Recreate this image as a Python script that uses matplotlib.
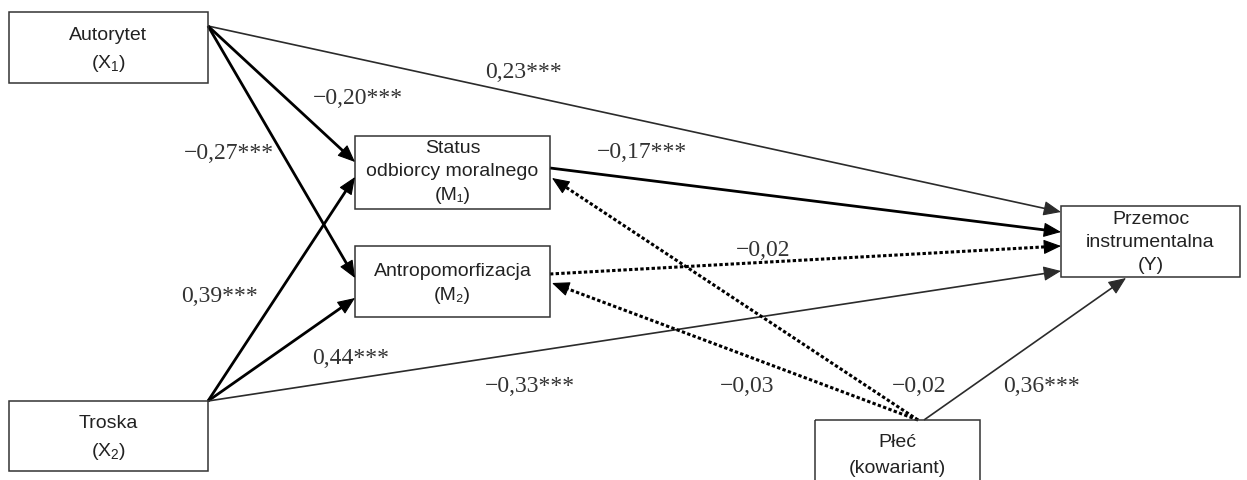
import numpy as np
import matplotlib.pyplot as plt
from matplotlib.patches import Rectangle

plt.rcParams['font.family'] = ['Liberation Sans', 'DejaVu Sans']
plt.rcParams['mathtext.fontset'] = 'custom'
plt.rcParams['mathtext.rm'] = 'Liberation Sans'

# węzły: (x0, y0, x1, y1) w pikselach obrazu
node_names = ['X1', 'M1', 'M2', 'X2', 'Y', 'P']
node_boxes = [(9, 13, 208, 84), (355, 137, 550, 210), (355, 247, 550, 318),
              (9, 402, 208, 472), (1061, 207, 1240, 278), (815, 421, 980, 500)]
node_lines = [['Autorytet', r'(X$\mathregular{_1}$)'],
              ['Status', 'odbiorcy moralnego', '(M₁)'],
              ['Antropomorfizacja', '(M₂)'],
              ['Troska', r'(X$\mathregular{_2}$)'],
              ['Przemoc', 'instrumentalna', '(Y)'],
              ['Płeć', '(kowariant)']]
node_line_y = [[36, 64], [149, 172, 196], [272, 296], [424, 452],
               [220, 243, 266], [443, 469]]

# ścieżki: współczynniki i istotność
path_coef = ['0,23***', '−0,20***', '−0,27***', '0,39***', '0,44***', '−0,33***',
             '−0,17***', '−0,02', '−0,02', '−0,03', '0,36***']
path_sig = [True, True, True, True, True, True, True, False, False, False, True]

# punkty zaczepienia (start, koniec) i styl
path_start = [(208, 27), (208, 27), (208, 27), (208, 402), (208, 402), (208, 402),
              (550, 169), (550, 275), (918, 421), (918, 421), (924, 421)]
path_end = [(1061, 213), (355, 163), (355, 279), (355, 178), (355, 299), (1061, 272),
            (1061, 233), (1061, 247), (552, 179), (552, 284), (1126, 279)]
path_thick = [False, True, True, True, True, False, True, True, True, True, False]
label_pos = [(524, 73), (358, 99), (229, 154), (219, 297), (351, 359), (530, 387),
             (642, 153), (763, 251), (919, 387), (747, 387), (1042, 387)]

fig = plt.figure(figsize=(12.47, 4.81), dpi=100)
ax = fig.add_axes([0, 0, 1, 1])
ax.set_xlim(0, 1247)
ax.set_ylim(481, 0)
ax.axis('off')

for (x0, y0, x1, y1), lines, ys in zip(node_boxes, node_lines, node_line_y):
    ax.add_patch(Rectangle((x0, y0), x1 - x0, y1 - y0, fill=False,
                           edgecolor='#333333', lw=1.1, zorder=3))
    for txt, ty in zip(lines, ys):
        ax.text((x0 + x1) / 2, ty, txt, ha='center', va='center', fontsize=14,
                color='#222222', zorder=4)

for s, e, thick, sig, coef, lp in zip(path_start, path_end, path_thick, path_sig,
                                      path_coef, label_pos):
    s = np.array(s, float)
    e = np.array(e, float)
    d = (e - s) / np.linalg.norm(e - s)
    col = 'black' if thick else '#2b2b2b'
    lw = 2.0 if thick else 1.2
    hl = 11
    base = e - d * hl * 1.3
    if sig:
        ax.plot([s[0], base[0]], [s[1], base[1]], color=col, lw=lw,
                solid_capstyle='butt', zorder=2)
    else:
        ax.plot([s[0], base[0]], [s[1], base[1]], color=col, lw=2.2,
                linestyle=(0, (1.1, 0.75)), dash_capstyle='butt', zorder=2)
    ax.annotate('', xy=e, xytext=e - d * hl * 1.5,
                arrowprops=dict(arrowstyle='-|>,head_length=1.0,head_width=0.42',
                                mutation_scale=11, color=col, lw=0.8,
                                shrinkA=0, shrinkB=0), zorder=3)
    ax.text(lp[0], lp[1], coef, ha='center', va='center', fontsize=17,
            family=['Liberation Serif', 'DejaVu Serif'], color='#333333', zorder=4)

fig.savefig('out.png', dpi=100)
